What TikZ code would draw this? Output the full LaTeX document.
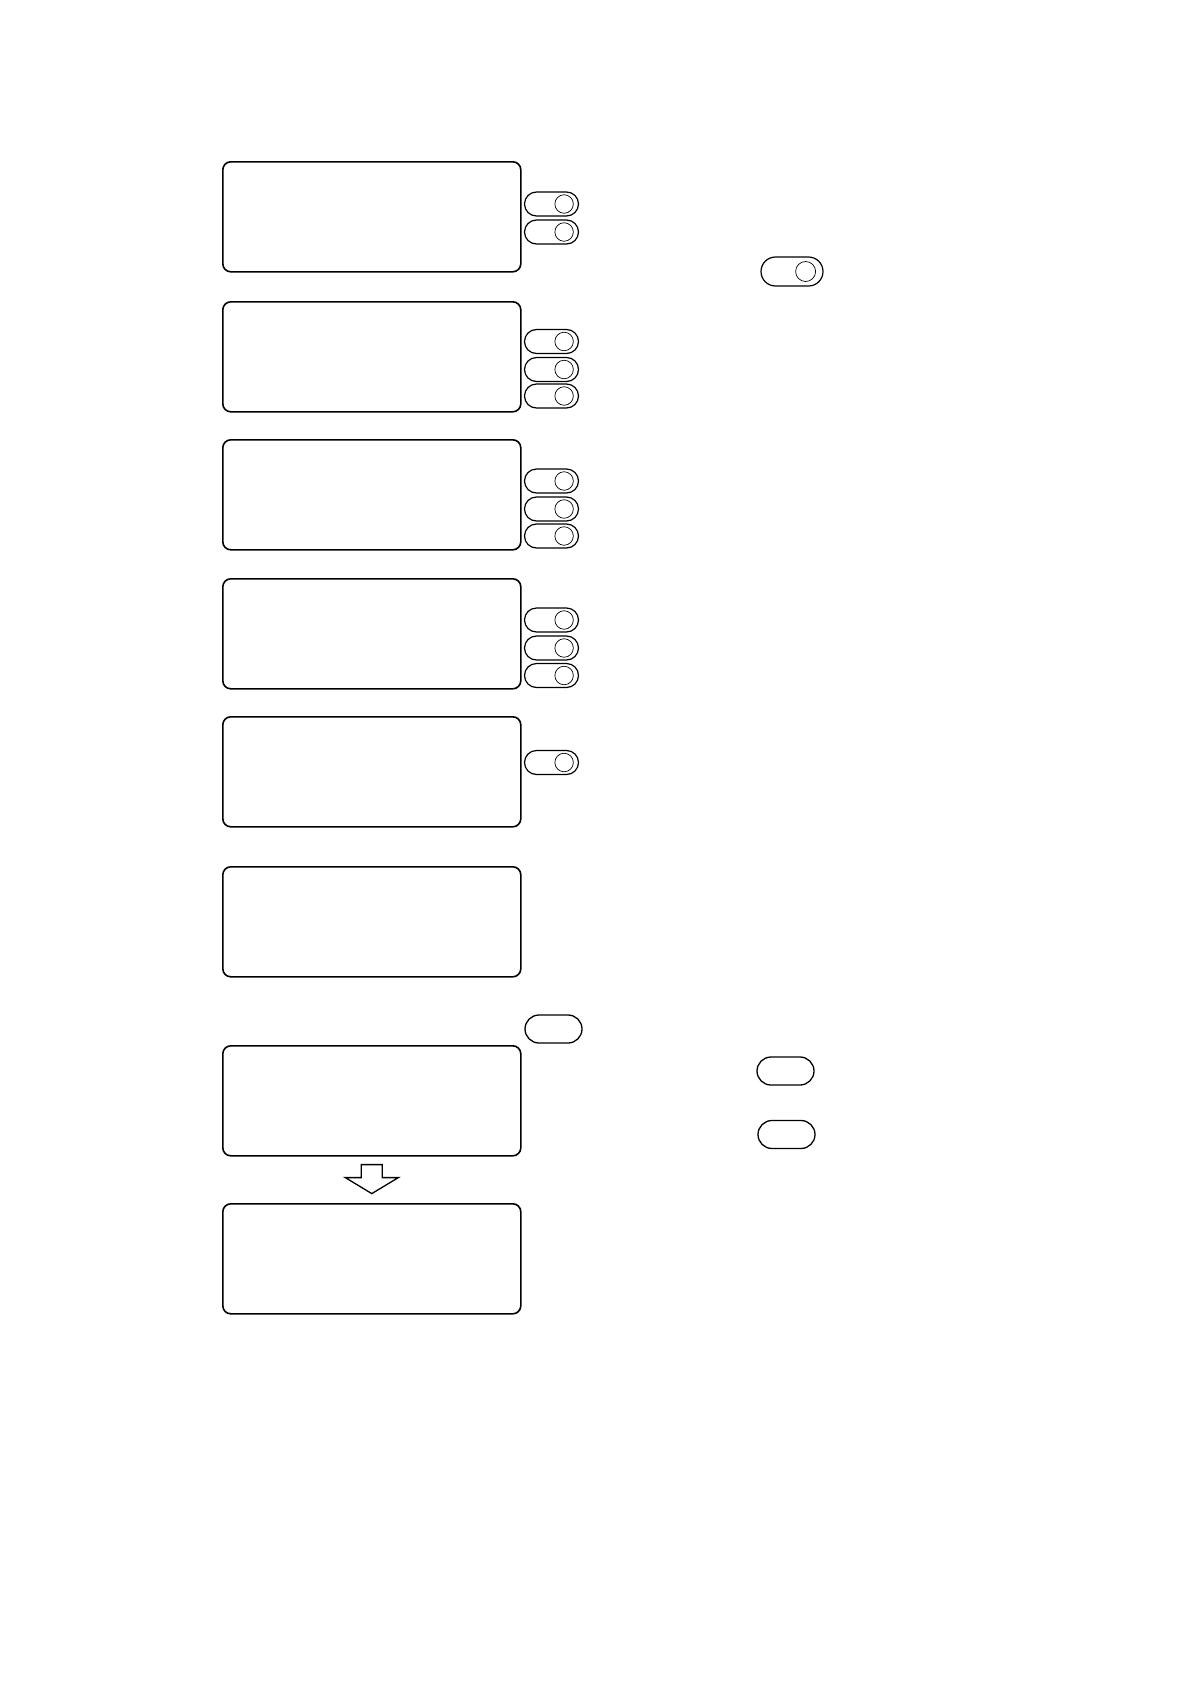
\documentclass[tikz,border=0pt]{standalone}
\usetikzlibrary{positioning}

\begin{document}
\begin{tikzpicture}[x=1pt,y=-1pt,
    screen/.style={draw,line width=1.6pt,rounded corners=8pt,anchor=north west,
      minimum width=298pt,minimum height=110pt,inner sep=0pt},
    toggle/.style={draw,line width=1.2pt,rounded corners=12pt,
      minimum width=54pt,minimum height=24pt,inner sep=0pt},
    bigtoggle/.style={toggle,rounded corners=14.5pt,minimum width=62pt,minimum height=29pt},
    knob/.style={draw,circle,line width=0.7pt,minimum size=18.5pt,inner sep=0pt},
    keycap/.style={draw,line width=1.3pt,rounded corners=14pt,
      minimum width=57pt,minimum height=28pt,inner sep=0pt}]
    \useasboundingbox (0,0) rectangle (1190,1684);

    % display screens
    \foreach \n/\y in {1/161,2/301,3/439,4/578,5/716,6/866,7/1045,8/1203}
      \node[screen] (s\n) at (222,\y) {};

    % toggle keys beside the screens
    \foreach \n/\y in {a/204,b/232,c/341.5,d/369.5,e/396,f/481,g/509,h/536,
                       i/620,j/648,k/675.5,l/762.5} {
      \node[toggle] (t\n) at (551.5,\y) {};
      \node[knob] (k\n) at ([xshift=-15pt]t\n.east) {};
    }

    \node[bigtoggle] (tbig) at (792,271.5) {};
    \node[knob,minimum size=20pt] (kbig) at ([xshift=-18pt]tbig.east) {};

    % plain keys
    \node[keycap] (key1) at (553.5,1029) {};
    \node[keycap] (key2) at (785.5,1071) {};
    \node[keycap] (key3) at (786.5,1134.5) {};

    % hollow arrow down
    \coordinate (dn) at ([yshift=-8pt]s7.south);
    \draw[line width=1.3pt] (dn) ++(-10.5,0) -- ++(0,13) -- ++(-16,0) -- ++(26.5,16)
      -- ++(26.5,-16) -- ++(-16,0) -- ++(0,-13) -- cycle;
\end{tikzpicture}
\end{document}
